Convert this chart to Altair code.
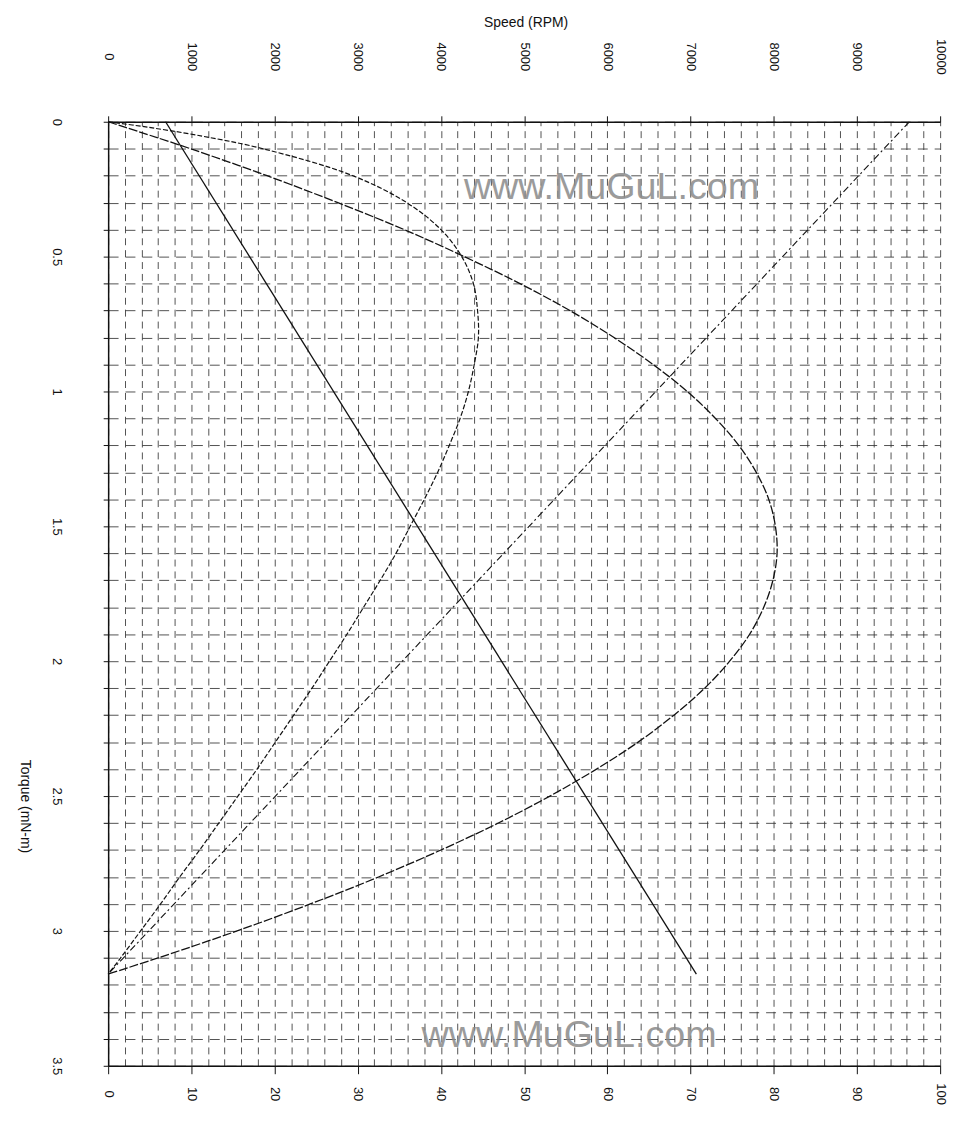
import altair as alt
import pandas as pd

# ---------------- values ----------------
# torque (mN-m) sample points along the two curved traces
curve_torque = [0, 0.02, 0.05, 0.1, 0.2, 0.3, 0.4, 0.5, 0.6, 0.7, 0.8, 0.9,
                1.0, 1.1, 1.2, 1.3, 1.4, 1.5, 1.6, 1.7, 1.8, 1.9, 2.0, 2.1,
                2.2, 2.3, 2.4, 2.5, 2.6, 2.7, 2.8, 2.9, 3.0, 3.1, 3.16]
# output power trace (read on the 0-100 bottom scale)
power = [0, 2.0, 5.0, 9.9, 19.1, 27.6, 35.6, 42.8, 49.5, 55.5, 60.8, 65.5,
         69.6, 73.0, 75.8, 77.9, 79.4, 80.2, 80.4, 79.9, 78.8, 77.1, 74.7, 71.7,
         68.0, 63.7, 58.7, 53.1, 46.9, 40.0, 32.5, 24.3, 15.5, 6.0, 0]
# efficiency trace (read on the 0-100 bottom scale)
efficiency = [0, 4.7, 10.7, 18.6, 29.4, 35.9, 40.0, 42.5, 43.9, 44.4, 44.5, 44.0,
              43.3, 42.3, 41.0, 39.6, 38.0, 36.3, 34.6, 32.7, 30.7, 28.7, 26.6, 24.5,
              22.3, 20.1, 17.9, 15.6, 13.3, 11.0, 8.6, 6.3, 3.9, 1.5, 0]

# straight traces: end points
line_torque = [0, 3.16]
speed_rpm = [9630, 0]        # top scale
current = [6.9, 70.7]        # bottom scale

# tick values / labels
speed_ticks = list(range(0, 10001, 1000))
pct_ticks = list(range(0, 101, 2))
torque_ticks = [round(i * 0.1, 1) for i in range(36)]

# watermark text
wm_text = ["www.MuGuL.com", "www.MuGuL.com"]
wm_x = [60.5, 55.4]
wm_t = [0.246, 3.39]

# ---------------- tables ----------------
curves = pd.DataFrame({"torque": curve_torque, "power": power, "efficiency": efficiency})
lines = pd.DataFrame({"torque": line_torque, "speed": speed_rpm, "current": current})
wm = pd.DataFrame({"text": wm_text, "wx": wm_x, "wt": wm_t})

FONT = "Liberation Sans"
xscale = alt.Scale(domain=[0, 100], nice=False, zero=False)
yscale = alt.Scale(domain=[0, 3.5], nice=False, reverse=True)

x_axis = alt.Axis(
    orient="bottom", values=pct_ticks, title=None, format="d",
    labelExpr="datum.value % 10 === 0 ? datum.label : ''",
    tickOpacity={"condition": {"test": "datum.value % 10 === 0", "value": 1}, "value": 0},
    tickSize=8, tickColor="#111", domainColor="#111", domainWidth=1.5,
    grid=True, gridDash=[7, 5], gridColor="#333", gridWidth=1, gridOpacity=0.85,
    labelAngle=90, labelAlign="center", labelBaseline="middle", labelPadding=20,
    labelFont=FONT, labelFontSize=13, labelColor="#111", labelOverlap=False, labelFlush=False,
)

major_t = "abs(datum.value * 2 - round(datum.value * 2)) < 0.01"
y_axis = alt.Axis(
    orient="left", values=torque_ticks, title="Torque (mN-m)",
    labelExpr=major_t + " ? format(datum.value, '~g') : ''",
    tickSize=5, tickColor="#111", domainColor="#111", domainWidth=1.5,
    grid=True, gridDash=[10, 7], gridColor="#333", gridWidth=1, gridOpacity=0.85,
    labelAngle=90, labelAlign="center", labelBaseline="middle", labelPadding=47,
    labelFont=FONT, labelFontSize=13, labelColor="#111", labelOverlap=False, labelFlush=False,
    titleAngle=90, titleX=-84, titleY=690, titleAlign="center", titleBaseline="middle",
    titleFont=FONT, titleFontSize=14, titleFontWeight="normal", titleColor="#111",
)

top_axis = alt.Axis(
    orient="top", values=speed_ticks, title="Speed (RPM)", grid=False, format="d",
    tickSize=6, tickColor="#111", domainColor="#111", domainWidth=1.5,
    labelAngle=90, labelAlign="center", labelBaseline="middle", labelPadding=60,
    labelFont=FONT, labelFontSize=13, labelColor="#111", labelOverlap=False, labelFlush=False,
    titleAngle=0, titleX=421, titleY=-100, titleAlign="center", titleBaseline="middle",
    titleFont=FONT, titleFontSize=14, titleFontWeight="normal", titleColor="#111",
)

Y = alt.Y("torque:Q", scale=yscale, axis=y_axis)

current_l = alt.Chart(lines).mark_line(color="#111", strokeWidth=1.3).encode(
    x=alt.X("current:Q", scale=xscale, axis=x_axis), y=Y, order="torque:Q")

power_l = alt.Chart(curves).mark_line(
    color="#111", strokeWidth=1.3, strokeDash=[9, 2], interpolate="catmull-rom").encode(
    x=alt.X("power:Q", scale=xscale, axis=x_axis), y=Y, order="torque:Q")

eff_l = alt.Chart(curves).mark_line(
    color="#111", strokeWidth=1.2, strokeDash=[5, 2], interpolate="catmull-rom").encode(
    x=alt.X("efficiency:Q", scale=xscale, axis=x_axis), y=Y, order="torque:Q")

wm_l = alt.Chart(wm).mark_text(
    font=FONT, fontSize=38, color="#8a8a8a", opacity=0.85, align="center", baseline="middle").encode(
    x=alt.X("wx:Q", scale=xscale, axis=x_axis),
    y=alt.Y("wt:Q", scale=yscale, axis=y_axis), text="text:N")

bottom = alt.layer(current_l, power_l, eff_l, wm_l)

speed_l = alt.Chart(lines).mark_line(color="#111", strokeWidth=1.1, strokeDash=[7, 3, 2, 3]).encode(
    x=alt.X("speed:Q", scale=alt.Scale(domain=[0, 10000], nice=False, zero=False), axis=top_axis),
    y=Y, order="torque:Q")

chart = (
    alt.layer(bottom, speed_l)
    .resolve_scale(x="independent")
    .properties(
        width=839, height=952,
        autosize=alt.AutoSizeParams(type="none"),
        padding={"left": 101, "top": 110, "right": 16, "bottom": 55},
        background="white",
    )
    .configure_view(strokeWidth=0)
)

chart.save("out.html", embed_options={"renderer": "svg", "actions": False})
